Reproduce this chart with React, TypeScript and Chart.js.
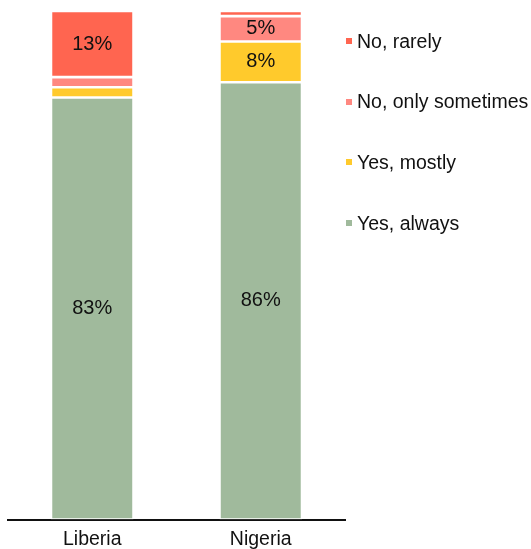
import React, { useEffect, useRef } from "react";
import { Chart, registerables } from "chart.js";

Chart.register(...registerables);

const categories = ["Liberia", "Nigeria"];
const seriesNames = ["Yes, always", "Yes, mostly", "No, only sometimes", "No, rarely"];
const yesAlways = [83, 86];
const yesMostly = [2, 8];
const noSometimes = [2, 5];
const noRarely = [13, 1];
const seriesColors = ["#A0BA9C", "#FFCA2C", "#FF8880", "#FF6550"];

const FONT = "'Liberation Sans', Arial, Helvetica, sans-serif";

const labelPlugin = {
  id: "segLabels",
  afterDatasetsDraw(chart: any) {
    const ctx = chart.ctx;
    ctx.save();
    ctx.font = `20px ${FONT}`;
    ctx.fillStyle = "#111";
    ctx.textAlign = "center";
    ctx.textBaseline = "middle";
    chart.data.datasets.forEach((ds: any, di: number) => {
      const meta = chart.getDatasetMeta(di);
      meta.data.forEach((el: any, i: number) => {
        const v = ds.data[i];
        if (v >= 5) {
          const p = el.getProps(["x", "y", "base"], true);
          ctx.fillText(`${v}%`, p.x, (p.y + p.base) / 2);
        }
      });
    });
    ctx.restore();
  },
};

export default function App() {
  const ref = useRef<HTMLCanvasElement>(null);
  useEffect(() => {
    const values = [yesAlways, yesMostly, noSometimes, noRarely];
    const chart = new Chart(ref.current!, {
      type: "bar",
      data: {
        labels: categories,
        datasets: seriesNames.map((n, i) => ({
          label: n,
          data: values[i],
          backgroundColor: seriesColors[i],
          borderColor: "#ffffff",
          borderWidth: 1.3,
          borderSkipped: false,
          barPercentage: 0.49,
          categoryPercentage: 1,
        })),
      },
      options: {
        animation: false,
        responsive: true,
        maintainAspectRatio: false,
        layout: { padding: { left: 8, right: 186, top: 11, bottom: 0 } },
        plugins: { legend: { display: false }, tooltip: { enabled: false } },
        scales: {
          x: {
            stacked: true,
            grid: { display: false, drawTicks: false },
            border: { display: true, color: "#111", width: 2 },
            ticks: { color: "#111", font: { family: FONT, size: 19.5 }, padding: 8 },
          },
          y: { stacked: true, display: false, min: 0, max: 100 },
        },
      },
      plugins: [labelPlugin],
    });
    return () => chart.destroy();
  }, []);

  const legendItems = [3, 2, 1, 0];
  return (
    <div style={{ position: "fixed", left: 0, top: 0, width: 531, height: 549, overflow: "hidden", background: "#fff" }}>
      <div style={{ position: "absolute", left: 0, top: 0, width: 531, height: 559 }}>
        <canvas ref={ref} />
      </div>
      {legendItems.map((si, k) => (
        <div
          key={si}
          style={{
            position: "absolute",
            left: 346,
            top: 41 + k * 60.7 - 12,
            height: 24,
            display: "flex",
            alignItems: "center",
            fontFamily: FONT,
            fontSize: 19.5,
            color: "#111",
            whiteSpace: "nowrap",
          }}
        >
          <span style={{ width: 6, height: 6, background: seriesColors[si], marginRight: 5, display: "inline-block" }} />
          {seriesNames[si]}
        </div>
      ))}
    </div>
  );
}
